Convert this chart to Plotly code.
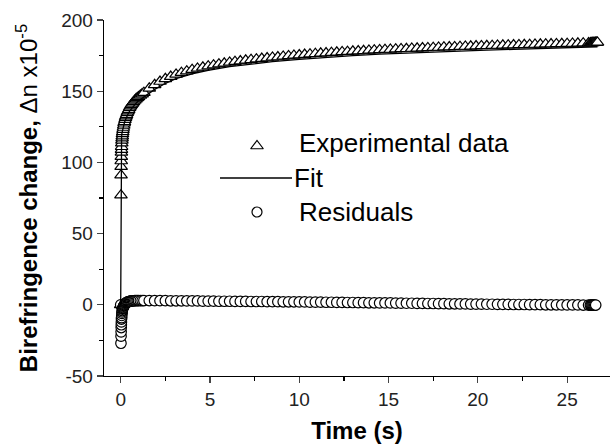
import plotly.graph_objects as go

# ---- data ----
time_s = [0, 0.015, 0.02, 0.025, 0.03, 0.035, 0.04, 0.045, 0.05, 0.06, 0.07, 0.08, 0.09, 0.1,
          0.115, 0.13, 0.15, 0.17, 0.19, 0.21, 0.24, 0.27, 0.3, 0.33, 0.37, 0.41, 0.45, 0.5,
          0.55, 0.6, 0.66, 0.72, 0.79, 0.86, 0.93, 1.0, 1.1, 1.2,
          1.3, 1.6, 1.9, 2.2, 2.5, 2.8, 3.1, 3.4, 3.7, 4.0, 4.3, 4.6, 4.9, 5.2, 5.5, 5.8, 6.1,
          6.4, 6.7, 7.0, 7.3, 7.6, 7.9, 8.2, 8.5, 8.8, 9.1, 9.4, 9.7, 10.0, 10.3, 10.6, 10.9,
          11.2, 11.5, 11.8, 12.1, 12.4, 12.7, 13.0, 13.3, 13.6, 13.9, 14.2, 14.5, 14.8, 15.1,
          15.4, 15.7, 16.0, 16.3, 16.6, 16.9, 17.2, 17.5, 17.8, 18.1, 18.4, 18.7, 19.0, 19.3,
          19.6, 19.9, 20.2, 20.5, 20.8, 21.1, 21.4, 21.7, 22.0, 22.3, 22.6, 22.9, 23.2, 23.5,
          23.8, 24.1, 24.4, 24.7, 25.0, 25.3, 25.6, 25.9, 26.2,
          26.3, 26.35, 26.4, 26.45, 26.5, 26.55, 26.6, 26.65, 26.7]

experimental = [0, 77, 91, 97, 101, 104, 107, 109, 111, 113.5, 115.5, 117, 118.5, 120,
                121.5, 123, 124.5, 126, 127.5, 128.5, 130, 131.5, 132.5, 133.5, 135, 136, 137, 138.5,
                139.5, 140.5, 141.5, 142.5, 143.5, 144.5, 145.3, 146, 147, 148,
                149, 152, 154.5, 156.8, 158.7, 160.3, 161.8, 163, 164.1, 165.1, 166, 166.8, 167.6,
                168.3, 169, 169.6, 170.2, 170.7, 171.2, 171.7, 172.1, 172.5, 172.9, 173.3, 173.7,
                174, 174.4, 174.8, 175.1, 175.4, 175.7, 176, 176.3, 176.6, 176.8, 177.1, 177.3,
                177.6, 177.8, 178, 178.2, 178.4, 178.6, 178.8, 179, 179.2, 179.3, 179.5, 179.7,
                179.8, 180, 180.1, 180.3, 180.4, 180.6, 180.7, 180.9, 181, 181.1, 181.3, 181.4,
                181.5, 181.7, 181.8, 181.9, 182, 182.1, 182.2, 182.3, 182.4, 182.5, 182.6, 182.7,
                182.8, 182.9, 183, 183.1, 183.2, 183.3, 183.4, 183.5, 183.6, 183.7, 183.8,
                183.9, 183.9, 184, 184, 184.1, 184.1, 184.2, 184.2, 184.3]

residuals = [0, -27, -22, -19, -16, -14, -12, -10, -9, -7.5, -6, -5, -4, -3,
             -2.5, -2, -1.5, -1, -0.5, 0, 0.5, 1, 1.3, 1.6, 1.9, 2.1, 2.3, 2.5,
             2.6, 2.7, 2.8, 2.8, 2.9, 2.9, 3, 3, 3, 3,
             3, 3, 2.9, 2.9, 2.9, 2.8, 2.8, 2.8, 2.7, 2.7, 2.7, 2.6, 2.6, 2.6, 2.5, 2.5, 2.5,
             2.4, 2.4, 2.4, 2.3, 2.3, 2.3, 2.2, 2.2, 2.2, 2.1, 2.1, 2.1, 2.0, 2.0, 1.9, 1.9,
             1.9, 1.8, 1.8, 1.7, 1.7, 1.6, 1.6, 1.5, 1.5, 1.4, 1.4, 1.3, 1.3, 1.3, 1.2, 1.2,
             1.1, 1.1, 1.0, 1.0, 0.9, 0.9, 0.8, 0.8, 0.7, 0.7, 0.6, 0.6, 0.5, 0.5, 0.5, 0.4,
             0.4, 0.3, 0.3, 0.3, 0.2, 0.2, 0.2, 0.1, 0.1, 0.1, 0, 0, 0, -0.1, -0.1, -0.1, -0.1,
             -0.2, -0.2, -0.2, -0.2, -0.2, -0.2, -0.2, -0.2, -0.2]

fit_time = [0, 0.01, 0.015, 0.02, 0.03, 0.04, 0.05, 0.07, 0.1, 0.13, 0.17, 0.21, 0.27, 0.33,
            0.41, 0.5, 0.6, 0.72, 0.86, 1.0, 1.2, 1.5, 1.9, 2.5, 3.1, 4.0, 4.9, 6.1, 7.3, 8.5,
            10, 11.5, 13, 14.5, 16, 17.5, 19, 20.5, 22, 23.5, 25, 26.7]
fit_values = [0, 98, 104, 108, 113, 116, 118, 120.5, 122.5, 124.5, 126.5, 128, 130, 132,
              134, 136, 137.8, 139.7, 141.6, 143.2, 145, 147.5, 151.3, 155.5, 158.8, 162.1,
              164.6, 167.2, 169.1, 170.7, 172.4, 173.8, 175, 176, 176.8, 177.6, 178.3, 178.9,
              179.4, 179.9, 180.4, 181.2]

y_tick_values = [-50, 0, 50, 100, 150, 200]
y_tick_labels = ["-50", "0", "50", "100", "150", "200"]
x_tick_values = [0, 5, 10, 15, 20, 25]
x_tick_labels = ["0", "5", "10", "15", "20", "25"]

legend_labels = ["Experimental data", "Fit", "Residuals"]

FONT = "Arial, Liberation Sans, sans-serif"

fig = go.Figure()

fig.add_trace(go.Scatter(
    x=time_s, y=experimental, mode="markers", name=legend_labels[0],
    marker=dict(symbol="triangle-up", size=11, color="white",
                line=dict(color="black", width=1.2)),
    showlegend=False))

fig.add_trace(go.Scatter(
    x=time_s, y=residuals, mode="markers", name=legend_labels[2],
    marker=dict(symbol="circle", size=10.5, color="white",
                line=dict(color="black", width=1.2)),
    showlegend=False))

fig.add_trace(go.Scatter(
    x=fit_time, y=fit_values, mode="lines", name=legend_labels[1],
    line=dict(color="black", width=1.3), showlegend=False))

# manual legend drawn on an overlay axis in pixel units
leg_x = [257, 257]
leg_y = [146, 212]
fig.add_trace(go.Scatter(
    x=[leg_x[0]], y=[leg_y[0]], xaxis="x2", yaxis="y2", mode="markers",
    marker=dict(symbol="triangle-up", size=11, color="white",
                line=dict(color="black", width=1.2)), showlegend=False, hoverinfo="skip"))
fig.add_trace(go.Scatter(
    x=[leg_x[1]], y=[leg_y[1]], xaxis="x2", yaxis="y2", mode="markers",
    marker=dict(symbol="circle", size=10, color="white",
                line=dict(color="black", width=1.2)), showlegend=False, hoverinfo="skip"))
fig.add_trace(go.Scatter(
    x=[220, 292], y=[178, 178], xaxis="x2", yaxis="y2", mode="lines",
    line=dict(color="black", width=1.3), showlegend=False, hoverinfo="skip"))

for txt, xx, yy in [(legend_labels[0], 297, 143), (legend_labels[1], 292, 178),
                    (legend_labels[2], 297, 212)]:
    fig.add_annotation(x=xx, y=yy, xref="x2", yref="y2", text=txt, showarrow=False,
                       xanchor="left", yanchor="middle",
                       font=dict(family=FONT, size=26, color="black"))

fig.update_layout(
    width=610, height=444,
    margin=dict(l=104, r=0, t=20, b=68, autoexpand=False),
    paper_bgcolor="white", plot_bgcolor="white",
    font=dict(family=FONT, color="black"),
    hovermode=False,
    xaxis=dict(range=[-0.935, 27.4], tickmode="array", tickvals=x_tick_values,
               ticktext=x_tick_labels, ticks="outside", ticklen=6,
               tickwidth=1.2, showline=True, linecolor="black", linewidth=1.3,
               showgrid=False, zeroline=False, automargin=False,
               minor=dict(dtick=2.5, tick0=0, ticks="outside", ticklen=4, tickwidth=1.2,
                          tickcolor="black", showgrid=False),
               tickfont=dict(size=19, color="#222"),
               title=dict(text="<b>Time (s)</b>", font=dict(size=24), standoff=13)),
    yaxis=dict(range=[-50, 200], tickmode="array", tickvals=y_tick_values,
               ticktext=y_tick_labels, ticks="outside", ticklen=6,
               tickwidth=1.2, showline=True, linecolor="black", linewidth=1.3,
               showgrid=False, zeroline=False, automargin=False,
               minor=dict(dtick=25, tick0=0, ticks="outside", ticklen=4, tickwidth=1.2,
                          tickcolor="black", showgrid=False),
               tickfont=dict(size=19, color="#222"),
               title=dict(text="<b>Birefringence change,</b> \u0394n x10<sup>-5</sup>",
                          font=dict(size=24), standoff=16)),
    xaxis2=dict(overlaying="x", range=[104, 610], visible=False, fixedrange=True),
    yaxis2=dict(overlaying="y", range=[376, 20], visible=False, fixedrange=True),
)

fig.write_html("out.html", config={"displayModeBar": False, "staticPlot": True},
               post_script="document.body.style.margin='0';document.body.style.padding='0';")
